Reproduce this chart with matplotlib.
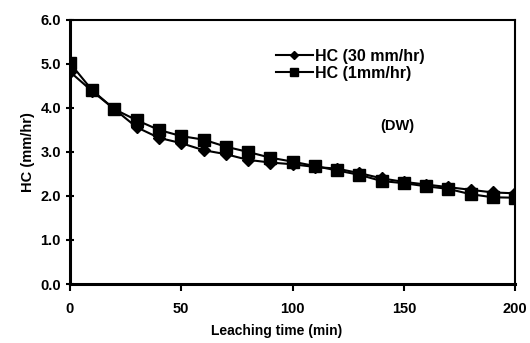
import matplotlib
matplotlib.use('Agg')
import matplotlib.pyplot as plt

# DATA ------------------------------------------------------------------------
time_min = [0, 10, 20, 30, 40, 50, 60, 70, 80, 90, 100,
            110, 120, 130, 140, 150, 160, 170, 180, 190, 200]
hc_30 = [4.82, 4.38, 3.97, 3.56, 3.32, 3.20, 3.04, 2.95, 2.82, 2.76, 2.72,
         2.66, 2.62, 2.52, 2.40, 2.32, 2.26, 2.20, 2.14, 2.08, 2.06]
hc_1 = [5.02, 4.40, 3.97, 3.72, 3.50, 3.36, 3.28, 3.12, 3.00, 2.87, 2.78,
        2.68, 2.58, 2.48, 2.34, 2.29, 2.22, 2.16, 2.04, 1.97, 1.96]

plt.rcParams['font.family'] = ['Liberation Sans', 'DejaVu Sans']
plt.rcParams['font.weight'] = 'bold'

fig = plt.figure(figsize=(5.3, 3.43), dpi=100)
ax = fig.add_axes([0.132, 0.172, 0.84, 0.77])

ax.plot(time_min, hc_30, color='black', lw=1.5, marker='D', ms=6.5,
        label='HC (30 mm/hr)')
ax.plot(time_min, hc_1, color='black', lw=1.5, marker='s', ms=8.5,
        label='HC (1mm/hr)')

ax.set_xlim(0, 200)
ax.set_ylim(0, 6)
ax.set_xticks([0, 50, 100, 150, 200])
ax.set_yticks([0, 1, 2, 3, 4, 5, 6])
ax.set_yticklabels([f'{v:.1f}' for v in [0, 1, 2, 3, 4, 5, 6]])
ax.tick_params(axis='y', direction='inout', length=6, width=1.5, labelsize=10.5)
ax.tick_params(axis='x', direction='out', length=5, width=1.5, labelsize=10.5, pad=8)
for s in ax.spines.values():
    s.set_linewidth(1.5)
ax.spines['left'].set_linewidth(2.2)
ax.spines['bottom'].set_linewidth(2.2)

ax.set_xlabel('Leaching time (min)', fontsize=10, fontweight='bold')
ax.xaxis.set_label_coords(0.465, -0.15)
ax.set_ylabel('HC (mm/hr)', fontsize=10.5, fontweight='bold')

ax.text(0.735, 0.598, '(DW)', transform=ax.transAxes, fontsize=10.5,
        fontweight='bold', ha='center', va='center')
ax.legend(loc='upper left', bbox_to_anchor=(0.445, 0.92), frameon=False,
          fontsize=11.5, handlelength=2.3, handletextpad=0.15, labelspacing=0.12,
          borderpad=0, markerscale=0.7)

fig.savefig('out.png', dpi=100)
